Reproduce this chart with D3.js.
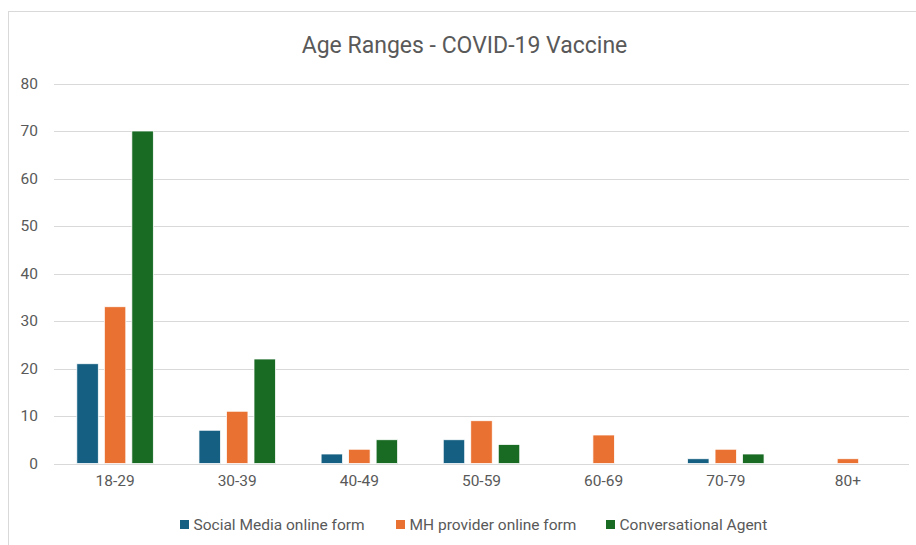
<!DOCTYPE html>
<html>
<head>
<meta charset="utf-8">
<script src="https://cdn.jsdelivr.net/npm/d3@7"></script>
<style>
  html, body { margin: 0; padding: 0; background: #fff; }
  svg { display: block; font-family: Roboto, "Noto Sans", sans-serif; }
</style>
</head>
<body>
<svg id="chart" width="916" height="545"></svg>
<script>
// Age group counts by recruitment channel
const categories = ["18-29", "30-39", "40-49", "50-59", "60-69", "70-79", "80+"];
const seriesNames = ["Social Media online form", "MH provider online form", "Conversational Agent"];
const socialMedia = [21, 7, 2, 5, 0, 1, 0];
const mhProvider = [33, 11, 3, 9, 6, 3, 1];
const conversational = [70, 22, 5, 4, 0, 2, 0];
const yTicks = [0, 10, 20, 30, 40, 50, 60, 70, 80];
const colors = ["#156082", "#E97132", "#196B24"];

const seriesValues = [socialMedia, mhProvider, conversational];
const rows = categories.map((c, i) => ({
  category: c,
  values: seriesNames.map((s, j) => ({ series: s, value: seriesValues[j][i], color: colors[j] }))
}));

const svg = d3.select("#chart");
const textColor = "#595959";
const gridColor = "#d9d9d9";

// outer chart frame
svg.append("rect")
  .attr("x", 8.5).attr("y", 11.5)
  .attr("width", 930).attr("height", 560)
  .attr("fill", "#fff")
  .attr("stroke", gridColor).attr("stroke-width", 1);

const plot = { left: 54, right: 909, top: 83.5, bottom: 463.5 };

const x0 = d3.scaleBand()
  .domain(categories)
  .range([plot.left, plot.right])
  .paddingInner(0).paddingOuter(0);

const groupWidth = 76.5;
const x1 = d3.scaleBand()
  .domain(seriesNames)
  .range([0, groupWidth])
  .paddingInner(0.22).paddingOuter(0);

const y = d3.scaleLinear().domain([0, 80]).range([plot.bottom, plot.top]);

// horizontal gridlines
svg.append("g")
  .selectAll("line")
  .data(yTicks)
  .join("line")
  .attr("x1", plot.left).attr("x2", plot.right)
  .attr("y1", d => Math.round(y(d)) + 0.5).attr("y2", d => Math.round(y(d)) + 0.5)
  .attr("stroke", gridColor).attr("stroke-width", 1);

// y axis labels
const yAxis = d3.axisLeft(y).tickValues(yTicks).tickSize(0).tickPadding(0);
svg.append("g")
  .attr("transform", `translate(38,0)`)
  .call(yAxis)
  .call(g => g.select(".domain").remove())
  .call(g => g.selectAll("text")
    .attr("fill", textColor)
    .style("font-size", "15.5px")
    .style("font-family", "Roboto, sans-serif"));

// bars
const groups = svg.append("g")
  .selectAll("g")
  .data(rows)
  .join("g")
  .attr("transform", d => `translate(${x0(d.category) + (x0.bandwidth() - groupWidth) / 2},0)`);

groups.selectAll("rect")
  .data(d => d.values.filter(v => v.value > 0))
  .join("rect")
  .attr("x", d => x1(d.series))
  .attr("width", x1.bandwidth())
  .attr("y", d => y(d.value))
  .attr("height", d => y(0) - y(d.value))
  .attr("fill", d => d.color)
  .attr("stroke", "#fff").attr("stroke-width", 0.75);

// x axis labels
const xAxis = d3.axisBottom(x0).tickSize(0).tickPadding(0);
svg.append("g")
  .attr("transform", `translate(0,${plot.bottom + 11})`)
  .call(xAxis)
  .call(g => g.select(".domain").remove())
  .call(g => g.selectAll("text")
    .attr("fill", textColor)
    .style("font-size", "15.5px")
    .style("font-family", "Roboto, sans-serif"));

// title
svg.append("text")
  .attr("x", 464.5).attr("y", 53)
  .attr("text-anchor", "middle")
  .attr("fill", textColor)
  .style("font-size", "23px")
  .text("Age Ranges - COVID-19 Vaccine");

// legend
const legendX = [180, 396, 606];
const legend = svg.append("g")
  .selectAll("g")
  .data(seriesNames)
  .join("g")
  .attr("transform", (d, i) => `translate(${legendX[i]},520)`);

legend.append("rect")
  .attr("width", 9).attr("height", 9)
  .attr("fill", (d, i) => colors[i]);

legend.append("text")
  .attr("x", 13.5).attr("y", 9.5)
  .attr("fill", textColor)
  .style("font-size", "15.5px")
  .text(d => d);
</script>
</body>
</html>
